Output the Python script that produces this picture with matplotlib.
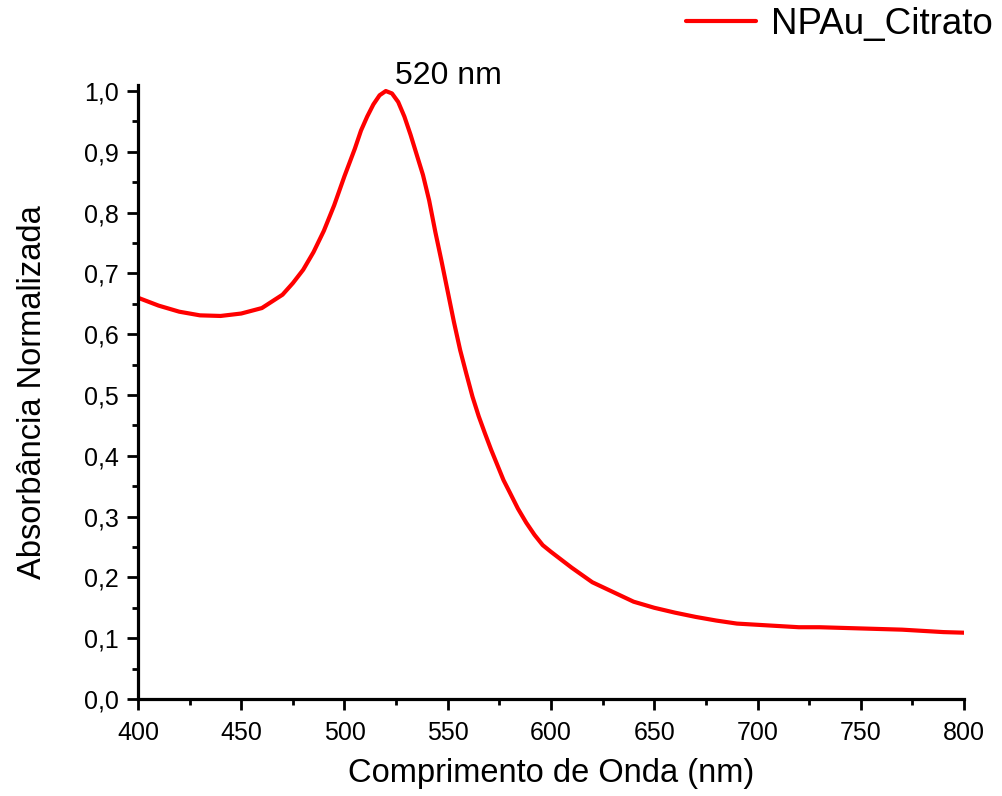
import matplotlib.pyplot as plt
from matplotlib.ticker import MultipleLocator, FixedLocator

# wavelength (nm) and normalized absorbance
wavelength = [400, 410, 420, 430, 440, 450, 460, 470, 475, 480, 485, 490, 495,
              500, 505, 508, 511, 514, 517, 520, 523, 526, 529, 532, 535, 538,
              541, 544, 547, 550, 553, 556, 559, 562, 565, 568, 571, 574, 577,
              580, 584, 588, 592, 596, 600, 610, 620, 630, 640, 650, 660, 670,
              680, 690, 700, 710, 720, 730, 740, 750, 760, 770, 780, 790, 800]
absorbance = [0.660, 0.647, 0.637, 0.631, 0.630, 0.634, 0.643, 0.665, 0.684, 0.706, 0.735, 0.770, 0.812,
              0.860, 0.905, 0.935, 0.958, 0.978, 0.993, 1.000, 0.996, 0.982, 0.958, 0.928, 0.895, 0.862,
              0.820, 0.768, 0.720, 0.670, 0.620, 0.574, 0.535, 0.497, 0.465, 0.437, 0.410, 0.385, 0.360,
              0.340, 0.313, 0.290, 0.270, 0.253, 0.242, 0.216, 0.192, 0.176, 0.160, 0.150, 0.142, 0.135,
              0.129, 0.124, 0.122, 0.120, 0.118, 0.118, 0.117, 0.116, 0.115, 0.114, 0.112, 0.110, 0.109]

x_ticks = [400, 450, 500, 550, 600, 650, 700, 750, 800]
y_ticks = [0.0, 0.1, 0.2, 0.3, 0.4, 0.5, 0.6, 0.7, 0.8, 0.9, 1.0]
y_labels = ['0,0', '0,1', '0,2', '0,3', '0,4', '0,5', '0,6', '0,7', '0,8', '0,9', '1,0']

plt.rcParams['font.family'] = ['Liberation Sans', 'DejaVu Sans']

fig = plt.figure(figsize=(10.02, 7.96), dpi=100)
ax = fig.add_axes([0.1377, 0.1219, 0.8244, 0.7714])

line, = ax.plot(wavelength, absorbance, color='#ff0000', lw=3, label='NPAu_Citrato',
                solid_capstyle='round', solid_joinstyle='round')

ax.set_xlim(400, 800)
ax.set_ylim(0, 1.01)

ax.xaxis.set_major_locator(FixedLocator(x_ticks))
ax.xaxis.set_minor_locator(MultipleLocator(25))
ax.set_yticks(y_ticks)
ax.set_yticklabels(y_labels)
ax.yaxis.set_minor_locator(MultipleLocator(0.05))

ax.spines['top'].set_visible(False)
ax.spines['right'].set_visible(False)
for s in ['left', 'bottom']:
    ax.spines[s].set_linewidth(2.3)

ax.tick_params(which='major', direction='out', length=8, width=2, labelsize=18)
ax.tick_params(axis='x', which='major', pad=8)
ax.tick_params(axis='y', which='major', pad=6)
ax.tick_params(which='minor', direction='out', length=4.5, width=2)

ax.set_xlabel('Comprimento de Onda (nm)', fontsize=23.5, labelpad=9)
ax.set_ylabel('Absorbância Normalizada', fontsize=23.5, labelpad=26)

ax.text(524.5, 1.012, '520 nm', fontsize=23, ha='left', va='baseline', clip_on=False)

fig.legend(handles=[line], loc='upper right', bbox_to_anchor=(1.009, 1.014), frameon=False,
           fontsize=26.5, handlelength=1.9, handletextpad=0.4, borderaxespad=0.1)

plt.savefig('out.png', dpi=100)
